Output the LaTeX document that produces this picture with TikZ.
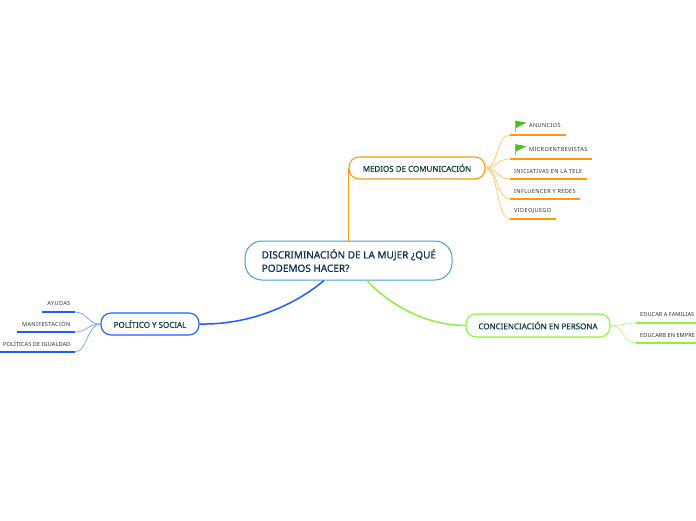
\documentclass[tikz,border=0pt]{standalone}
\usepackage{fontspec}
\setmainfont{Noto Sans}
\newfontfamily\leaffont[LetterSpace=6]{Noto Sans}
\newfontfamily\tightleaf[LetterSpace=1]{Noto Sans}
\newfontfamily\heavyfont[FakeBold=0.35]{Noto Sans}
\newfontfamily\midfont[FakeBold=0.25]{Noto Sans}
\usetikzlibrary{calc}
\definecolor{corange}{HTML}{FF9A0A}
\definecolor{lorange}{HTML}{FFC978}
\definecolor{cblue}{HTML}{1F5CFF}
\definecolor{lblue}{HTML}{85A8FF}
\definecolor{cgreen}{HTML}{8EF23A}
\definecolor{lgreen}{HTML}{BDF78E}
\definecolor{cborder}{HTML}{4E9BD8}
\definecolor{ctext}{HTML}{0B2A55}
\definecolor{btext}{HTML}{0B3B3A}
\definecolor{ltext}{HTML}{303030}
\definecolor{flaggreen}{HTML}{45C31C}
\tikzset{
  x=1pt,y=-1pt,
  centralbox/.style={draw=cborder,line width=1pt,fill=white,rounded corners=17pt,minimum width=207pt,minimum height=39pt,inner sep=0pt},
  centraltext/.style={anchor=west,align=left,inner sep=0pt,text=ctext,font=\fontsize{10}{13.4}\selectfont\heavyfont},
  branchbox/.style={draw=#1,line width=1.1pt,fill=white,rounded corners=10pt,minimum height=22pt,inner sep=0pt,text=btext,font=\fontsize{8}{10}\selectfont\midfont},
  leaftext/.style={inner sep=0pt,text=ltext,font=\fontsize{5.6}{7}\selectfont\leaffont},
  tightleaftext/.style={inner sep=0pt,text=ltext,font=\fontsize{5.6}{7}\selectfont\tightleaf},
  trunk/.style={line width=1.5pt,draw=#1},
  twig/.style={line width=.8pt,draw=#1},
  under/.style={line width=1.4pt,draw=#1},
}
\begin{document}
\begin{tikzpicture}
\path[use as bounding box] (0,0) rectangle (696,520);
\coordinate (cenpos) at (348.5,260.5);
\coordinate (medpos) at (417,168);
\coordinate (polpos) at (150,324);
\coordinate (conpos) at (538,325.5);
\node[centralbox] (central) at (cenpos) {};
\node[branchbox=corange,minimum width=136pt] (medios) at (medpos) {MEDIOS DE COMUNICACIÓN};
\node[branchbox=cblue,minimum width=98pt] (politico) at (polpos) {POLÍTICO Y SOCIAL};
\node[branchbox=cgreen,minimum width=144pt,minimum height=23pt] (concien) at (conpos) {CONCIENCIACIÓN EN PERSONA};
\node[centraltext] (centraltxt) at (261.5,260.5) {DISCRIMINACIÓN DE LA MUJER ¿QUÉ\\PODEMOS HACER?};
\draw[trunk=corange] (central.north -| medios.west) -- (medios.west);
\coordinate (cb) at ($(central.south)+(-24.5,0)$);
\coordinate (cg) at ($(central.south)+(18.5,0)$);
\draw[trunk=cblue] (cb) .. controls (295,305) and (250,325) .. (politico.east);
\draw[trunk=cgreen] (cg) .. controls (385,300) and (420,325) .. (concien.west);
\foreach \n/\xa/\xb/\yy in {an/510/566/135,mi/510/592/159,in/510/587/179,nf/510/580/199,vi/510/556/219}{
  \coordinate (\n s) at (\xa,\yy); \coordinate (\n e) at (\xb,\yy);
  \draw[under=corange] (\n s) -- (\n e);
  \draw[twig=lorange] (medios.east) .. controls ($(medios.east)+(13,0)$) and ($(\n s)+(-14,0)$) .. (\n s);
}
\foreach \n/\xa/\xb/\yy in {ay/75/42/312,ma/75/17/332,po/75/0/352}{
  \coordinate (\n s) at (\xa,\yy); \coordinate (\n e) at (\xb,\yy);
  \draw[under=cblue] (\n s) -- (\n e);
  \draw[twig=lblue] (politico.west) .. controls ($(politico.west)+(-13,0)$) and ($(\n s)+(12,0)$) .. (\n s);
}
\foreach \n/\xa/\xb/\yy in {fa/636/696/323,em/636/696/343}{
  \coordinate (\n s) at (\xa,\yy); \coordinate (\n e) at (\xb,\yy);
  \draw[under=cgreen] (\n s) -- (\n e);
  \draw[twig=lgreen] (concien.east) .. controls ($(concien.east)+(14,0)$) and ($(\n s)+(-14,0)$) .. (\n s);
}
\node[leaftext,anchor=west] (tan) at (529,125.5) {ANUNCIOS};
\node[leaftext,anchor=west] (tmi) at (529,149) {MICROENTREVISTAS};
\node[leaftext,anchor=west] (tin) at (514,171) {INICIATIVAS EN LA TELE};
\node[leaftext,anchor=west] (tnf) at (514,191) {INFLUENCER Y REDES};
\node[leaftext,anchor=west] (tvi) at (514,211) {VIDEOJUEGO};
\node[leaftext,anchor=east] (tay) at (70.5,303.5) {AYUDAS};
\node[leaftext,anchor=east] (tma) at (70.5,324) {MANIFESTACIÓN};
\node[tightleaftext,anchor=east] (tpo) at (70.5,344) {POLÍTICAS DE IGUALDAD};
\node[tightleaftext,anchor=west] (tfa) at (640,314.5) {EDUCAR A FAMILIAS};
\node[tightleaftext,anchor=west] (tem) at (640,335) {EDUCARB EN EMPRE};
\foreach \yy in {120.5,144}{
  \draw[line width=.8pt,draw=black!35] (515.5,\yy) -- (515.5,\yy+11);
  \fill[flaggreen] (516,\yy+.3) -- (526.5,\yy+2.2) -- (516,\yy+7.5) -- cycle;
}
\end{tikzpicture}
\end{document}
